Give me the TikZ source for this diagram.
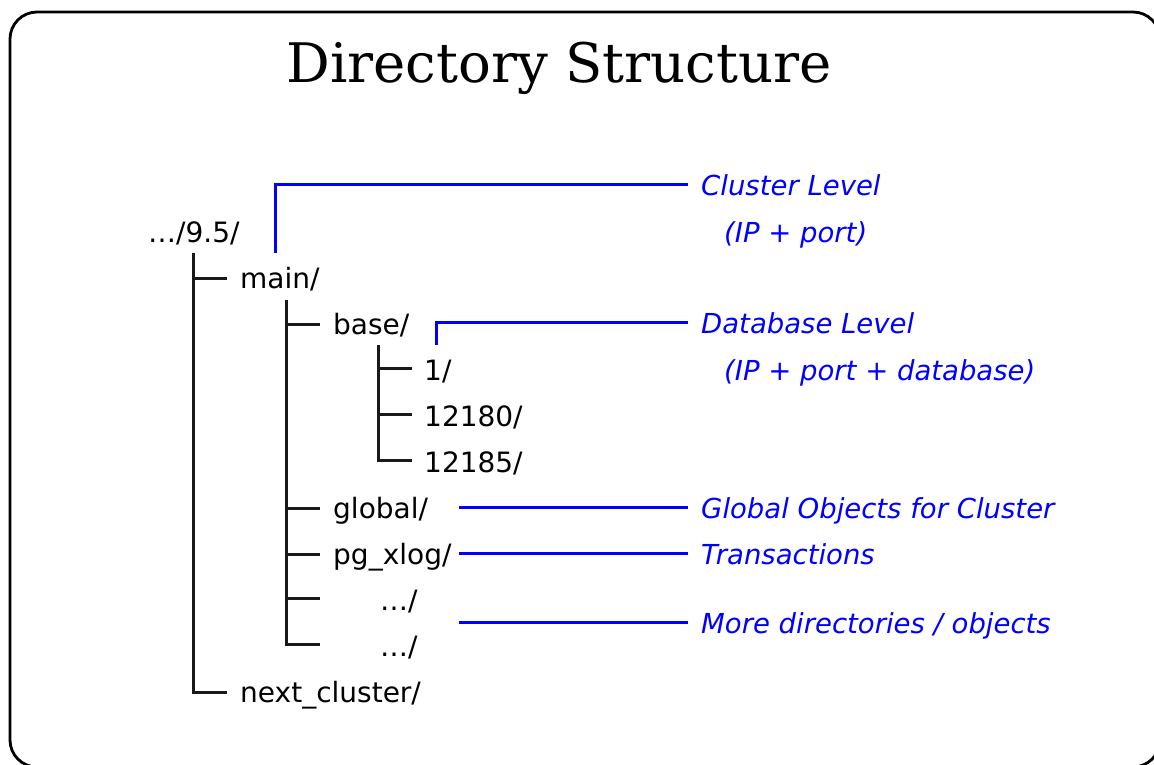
\documentclass[tikz,border=0pt]{standalone}
\usepackage{fontspec}
\setmainfont{DejaVu Sans}
\newfontfamily\titlefont{DejaVu Serif}
\begin{document}
\begin{tikzpicture}[x=1pt,y=-1pt,
  tree/.style={anchor=base west, inner sep=0pt, font=\fontsize{28}{34}\selectfont},
  note/.style={anchor=base west, inner sep=0pt, text=blue, font=\fontsize{27.5}{34}\selectfont\itshape},
  branch/.style={line width=3pt, draw=black!90},
  link/.style={line width=3pt, draw=blue}]
\useasboundingbox (0,0) rectangle (1154,764);
\begin{scope}
  \clip (0,0) rectangle (1154,764);
  \draw[line width=2.8pt, rounded corners=27pt] (10,12) rectangle (1160,767);
\end{scope}
\node[anchor=base, inner sep=0pt, font=\titlefont\fontsize{54.5}{60}\selectfont] (title) at (559,82) {Directory Structure};
% tree
\node[tree] (root) at (148,242) {…/9.5/};
\node[tree] (main) at (240,288) {main/};
\node[tree] (base) at (333,334) {base/};
\node[tree] (d1) at (424,380) {1/};
\node[tree] (d2) at (424,426) {12180/};
\node[tree] (d3) at (424,472) {12185/};
\node[tree] (global) at (333,518) {global/};
\node[tree] (xlog) at (333,564) {pg\_xlog/};
\node[tree] (m1) at (380,610) {…/};
\node[tree] (m2) at (380,656) {…/};
\node[tree] (next) at (240,702) {next\_cluster/};
\coordinate (t1) at (193,253);
\coordinate (t2) at (286,300);
\coordinate (t3) at (378,345);
\draw[branch] (t1) |- ([shift={(-13,-10)}]main.base west);
\draw[branch] (t1) |- ([shift={(-13,-10)}]next.base west);
\draw[branch] (t2) |- ([shift={(-13,-10)}]base.base west);
\draw[branch] (t2) |- ([shift={(-13,-10)}]global.base west);
\draw[branch] (t2) |- ([shift={(-13,-10)}]xlog.base west);
\draw[branch] (t2) |- ([shift={(-60,-12)}]m1.base west);
\draw[branch] (t2) |- ([shift={(-60,-12)}]m2.base west);
\draw[branch] (t3) |- ([shift={(-12,-12)}]d1.base west);
\draw[branch] (t3) |- ([shift={(-12,-12)}]d2.base west);
\draw[branch] (t3) |- ([shift={(-12,-12)}]d3.base west);
% notes
\node[note] (cl) at (701,195) {Cluster Level};
\node[note] (clsub) at (724,242) {(IP + port)};
\node[note] (db) at (701,333) {Database Level};
\node[note] (dbsub) at (724,380) {(IP + port + database)};
\node[note] (go) at (701,518) {Global Objects for Cluster};
\node[note] (tr) at (701,564) {Transactions};
\node[note] (mo) at (701,633) {More directories / objects};
\coordinate (c1) at (275,253);
\coordinate (c2) at (436,345);
\coordinate (c3) at (459,507);
\coordinate (c4) at (459,553);
\coordinate (c5) at (459,622);
\coordinate (e3) at ([xshift=-13]go.base west);
\coordinate (e4) at ([xshift=-13]tr.base west);
\coordinate (e5) at ([xshift=-13]mo.base west);
\draw[link] (c1) |- ([shift={(-13,-11)}]cl.base west);
\draw[link] (c2) |- ([shift={(-13,-11)}]db.base west);
\draw[link] (c3) -- (c3 -| e3);
\draw[link] (c4) -- (c4 -| e4);
\draw[link] (c5) -- (c5 -| e5);
\end{tikzpicture}
\end{document}
